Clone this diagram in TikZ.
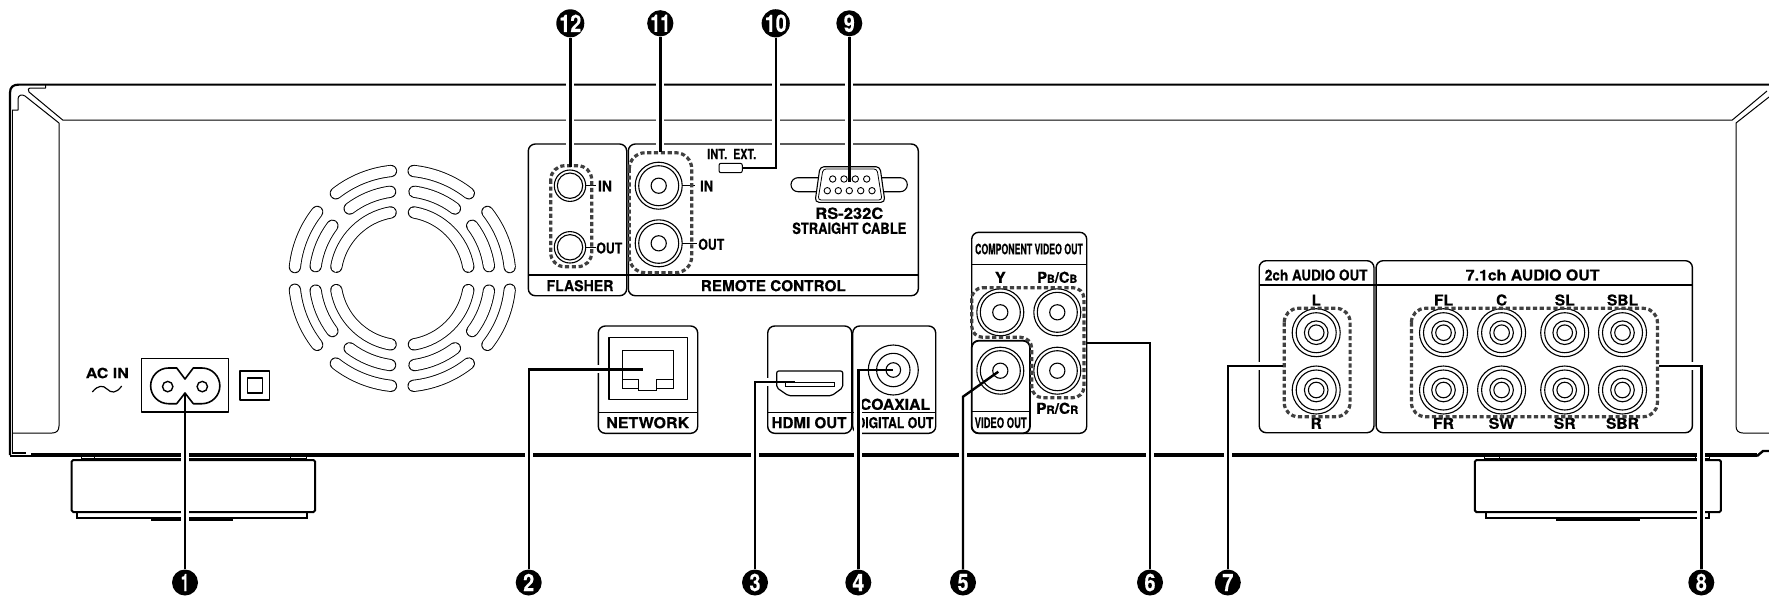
\documentclass[tikz,border=0pt]{standalone}
\usepackage{graphicx}
\usepackage{fontspec}
\setmainfont{TeX Gyre Heros}[BoldFeatures={FakeBold=0.4}]
\newcommand{\wl}[3]{\resizebox{#2pt}{\height}{\fontsize{#1pt}{#1pt}\selectfont\bfseries #3}}
\newcommand{\numt}[2]{\resizebox{#1pt}{\height}{\fontsize{24pt}{24pt}\selectfont\bfseries\color{white}#2}}
\newcommand{\sm}[1]{{\fontsize{11pt}{11pt}\selectfont #1}}
\tikzset{
  x=1pt,y=-1pt,
  lab/.style={inner sep=0pt,outer sep=0pt,anchor=center},
  num/.style={circle,fill=black,inner sep=0pt,minimum size=26pt},
  panel/.style={draw=black,fill=white,line width=1.4pt,rounded corners=7pt},
  thinl/.style={line width=1pt,line join=round},
  medl/.style={line width=1.3pt,line join=round},
  dashbox/.style={draw=black!75,line width=3.2pt,dash pattern=on 4.2pt off 2.6pt,rounded corners=14pt},
  leader/.style={draw=black,line width=2.4pt,line join=miter},
  halo/.style={draw=white,line width=8pt},
  ring/.style={draw=black,line width=1.1pt},
}
\newcommand{\rca}[2]{%
  \draw[ring] (#1,#2) circle[radius=24pt];
  \draw[ring] (#1,#2) circle[radius=20pt];
  \draw[ring] (#1,#2) circle[radius=11.8pt];
  \draw[ring] (#1,#2) circle[radius=7.8pt];}
\newcommand{\vid}[2]{%
  \draw[ring] (#1,#2) circle[radius=23.5pt];
  \draw[ring] (#1,#2) circle[radius=20pt];
  \draw[ring] (#1,#2) circle[radius=7.6pt];}
\begin{document}
\begin{tikzpicture}
\useasboundingbox (0,0) rectangle (1769,595);
\clip (0,0) rectangle (1769,595);
% ---------- body
\draw[line width=2.2pt,line join=round] (10,455) -- (10,93) .. controls (10,87) and (13,84.6) .. (19,84.6) -- (1769,84.6);
\draw[thinl] (12,110) -- (12,452);
\draw[thinl] (45.7,84.6) -- (45.7,88) -- (31,88) .. controls (28,88) and (27.5,90) .. (29,92) -- (62.7,120) -- (1732.3,120) -- (1767,91);
\draw[thinl] (12,110) -- (18,110) -- (18,99) .. controls (18,95) and (22,94) .. (25,96) -- (59,123) -- (59,426) .. controls (59,431) and (56,433) .. (52,433) -- (12,433);
\draw[thinl] (1769,433) -- (1743,433) .. controls (1739,433) and (1736,431) .. (1736,426) -- (1736,123) -- (1769,97);
\draw[line width=4.6pt] (31,455) -- (1757,455);
\draw[line width=1.6pt] (12,453) -- (26,453);
\draw[line width=2.4pt] (10,456) -- (33,456);
\draw[line width=2.4pt] (1757,456) -- (1763,451) -- (1769,451);
% ---------- feet
\draw[line width=1pt] (81.7,457) -- (81.7,460) (306,457) -- (306,460) (94.3,457) -- (94.3,460) (290.7,457) -- (290.7,460);
\draw[line width=1pt] (1484.5,457) -- (1484.5,460) (1709,457) -- (1709,460) (1499.5,457) -- (1499.5,460) (1695.6,457) -- (1695.6,460);
\draw[line width=1pt] (81.7,458.3) -- (306,458.3) (1484.5,458.3) -- (1709,458.3);
\draw[line width=2pt,rounded corners=1.5pt] (71.7,460) rectangle (315,512);
\draw[line width=1.7pt] (76.7,512) -- (76.7,518) -- (307.3,518) -- (307.3,512);
\draw[line width=2.5pt] (150.7,519.5) -- (233.3,519.5);
\draw[line width=2pt,rounded corners=1.5pt] (1474.9,460) rectangle (1720.9,512);
\draw[line width=1.7pt] (1486.3,512) -- (1486.3,518) -- (1709,518) -- (1709,512);
\draw[line width=2.5pt] (1555.8,519.5) -- (1639.6,519.5);
% ---------- fan
\foreach \r/\a/\b in {67/10/80,87.5/8/37,87.5/53/82,108/6/38,108/52/84}
  \foreach \s in {0,90,180,270}{
    \pgfmathsetmacro{\aa}{\a+\s}
    \pgfmathsetmacro{\bb}{\b+\s}
    \draw[line width=12.2pt,line cap=round] ([shift={(402.3,278.4)}]\aa:\r pt) arc[start angle=\aa,end angle=\bb,radius=\r pt];
    \draw[white,line width=10.4pt,line cap=round] ([shift={(402.3,278.4)}]\aa:\r pt) arc[start angle=\aa,end angle=\bb,radius=\r pt];
  }
% ---------- AC IN
\node[lab] (acin) at (107.3,373) {\wl{14}{43}{AC IN}};
\draw[line width=1.2pt] (92.3,392) .. controls (98,385) and (103,385) .. (107,389) .. controls (111,393) and (116,394) .. (121.7,386);
\draw[medl] (141.7,358.6) rectangle (228.3,412);
\draw[line width=1.6pt,line join=round] (176.7,368) -- (185,379) -- (193.3,368) -- (202,368) arc[start angle=90,end angle=-90,radius=17.85pt] -- (193.3,403.7) -- (185,393) -- (176.7,403.7) -- (168.5,403.7) arc[start angle=270,end angle=90,radius=17.85pt] -- cycle;
\draw[line width=1.4pt] (167.7,386.6) circle[radius=5.2pt] (202.3,386.6) circle[radius=5.2pt];
\draw[medl] (240,371) rectangle (269.3,400);
\draw[medl] (247.3,378) rectangle (262.3,393);
% ---------- panels
\draw[panel] (528.3,144) rectangle (626.7,295.7);
\draw[panel] (628.3,144) rectangle (918.3,295.7);
\draw[medl] (528.3,275) -- (918.3,275);
\draw[panel] (598.3,326) rectangle (697.7,433.3);
\draw[medl] (598.3,412.3) -- (697.7,412.3);
\draw[panel] (767.7,326) rectangle (851.7,433.3);
\draw[panel] (852.7,326) rectangle (935.7,433.3);
\draw[medl] (767.7,412.3) -- (935.7,412.3);
\draw[panel] (971.7,232.3) rectangle (1086.7,433.3);
\draw[medl] (971.7,264.3) -- (1086.7,264.3);
\draw[panel,line width=1.8pt] (971.7,340.7) rectangle (1030,433.3);
\draw[medl] (971.7,411.7) -- (1030,411.7);
\draw[panel] (1259.2,260.7) rectangle (1374,432.7);
\draw[panel] (1376.1,260.7) rectangle (1692.4,432.7);
\draw[medl] (1259.2,285) -- (1692.4,285);
% ---------- texts
\node[lab] (tfl) at (580,285.7) {\wl{15}{67}{FLASHER}};
\node[lab] (trc) at (773.3,285.7) {\wl{15}{145}{REMOTE CONTROL}};
\node[lab] (tin1) at (605,186) {\wl{15}{14}{IN}};
\node[lab] (tou1) at (609.3,248) {\wl{15}{26}{OUT}};
\node[lab] (tin2) at (706.7,186) {\wl{15}{13}{IN}};
\node[lab] (tou2) at (711.3,244.3) {\wl{15}{26}{OUT}};
\node[lab] (tint) at (717.3,154) {\wl{14}{20}{INT.}};
\node[lab] (text) at (744.7,154) {\wl{14}{23}{EXT.}};
\node[lab] (trs) at (849.3,213.3) {\wl{15.5}{68}{RS-232C}};
\node[lab] (tsc) at (849.3,228.3) {\wl{15.5}{114}{STRAIGHT CABLE}};
\node[lab] (tnw) at (647.7,422.7) {\wl{15}{83}{NETWORK}};
\node[lab] (thd) at (809,422.7) {\wl{15}{75}{HDMI OUT}};
\node[lab] (tco) at (895,404.3) {\wl{15}{70}{COAXIAL}};
\node[lab] (tdg) at (895,422.7) {\wl{15}{77}{DIGITAL OUT}};
\node[lab] (tcv) at (1029,249) {\wl{14.5}{107.7}{COMPONENT VIDEO OUT}};
\node[lab] (tvo) at (1000.7,422.7) {\wl{14.5}{52}{VIDEO OUT}};
\node[lab] (ty) at (1000.3,277.3) {\wl{15}{11}{Y}};
\node[lab] (tpb) at (1057.3,277.3) {\wl{15}{40}{P\sm{B}/C\sm{B}}};
\node[lab] (tpr) at (1057.3,408.3) {\wl{15}{42}{P\sm{R}/C\sm{R}}};
\node[lab] (t2c) at (1316.2,275) {\wl{15}{102.7}{2ch AUDIO OUT}};
\node[lab] (t7c) at (1532.6,275) {\wl{15}{133.7}{7.1ch AUDIO OUT}};
\node[lab] (tl) at (1316.2,300) {\wl{15}{9}{L}};
\node[lab] (tr) at (1316.2,423.3) {\wl{15}{11}{R}};
\node[lab] (tfl2) at (1443.5,300) {\wl{15}{19}{FL}};
\node[lab] (tc) at (1501.6,300) {\wl{15}{11}{C}};
\node[lab] (tsl) at (1564.7,300) {\wl{15}{20}{SL}};
\node[lab] (tsbl) at (1622.5,300) {\wl{15}{31}{SBL}};
\node[lab] (tfr) at (1443.5,423.3) {\wl{15}{21}{FR}};
\node[lab] (tsw) at (1501.6,423.3) {\wl{15}{26}{SW}};
\node[lab] (tsr) at (1564.7,423.3) {\wl{15}{22}{SR}};
\node[lab] (tsbr) at (1622.5,423.3) {\wl{15}{33}{SBR}};
% ---------- number nodes and leader targets
\node[num] (n1) at (185,582.5) {\numt{8}{1}};
\node[num] (n2) at (528.7,582.5) {\numt{11}{2}};
\node[num] (n3) at (755,582.5) {\numt{11}{3}};
\node[num] (n4) at (858.3,582.5) {\numt{12}{4}};
\node[num] (n5) at (963,582.5) {\numt{11}{5}};
\node[num] (n6) at (1150,582.5) {\numt{11}{6}};
\node[num] (n7) at (1227.8,582.5) {\numt{11}{7}};
\node[num] (n8) at (1701.3,582.5) {\numt{11}{8}};
\node[num] (n9) at (849.3,23.3) {\numt{11}{9}};
\node[num] (n10) at (775.7,23.3) {\numt{22}{10}};
\node[num] (n11) at (660.3,23.3) {\numt{20}{11}};
\node[num] (n12) at (570.3,23.3) {\numt{22}{12}};
\coordinate (t1) at (185,393);
\coordinate (t2) at (642.7,369.3);
\coordinate (t3) at (795,381.7);
\coordinate (t4) at (893.3,370);
\coordinate (b5) at (963,396.7);
\coordinate (t5) at (998.3,371.7);
\coordinate (t6) at (1086.7,342.7);
\coordinate (t7) at (1283,365.7);
\coordinate (t8) at (1658.5,365.7);
\coordinate (t9) at (849.3,181.7);
\coordinate (t10) at (742.3,167.7);
\coordinate (t11) at (660.3,152);
\coordinate (t12) at (570.3,166.7);
\coordinate (h1) at (185,415);
\coordinate (h2) at (604,369.3);
\coordinate (h3) at (772,381.7);
\coordinate (h4) at (858.3,398);
\coordinate (h6) at (1150,360);
\coordinate (h7) at (1270,365.7);
\coordinate (h8) at (1680,365.7);
\coordinate (h9) at (849.3,150);
\coordinate (h10) at (775.7,150);
\coordinate (h11) at (660.3,150);
\coordinate (h12) at (570.3,150);
% ---------- halos
\draw[halo] (n1.north) -- (h1);
\draw[halo] (n2.north) |- (h2);
\draw[halo] (n3.north) |- (h3);
\draw[halo] (n4.north) -- (h4);
\draw[halo] (n5.north) -- (b5);
\draw[halo] (n6.north) -- (h6);
\draw[halo] (n7.north) |- (h7);
\draw[halo] (n8.north) |- (h8);
\draw[halo] (n9.south) -- (h9);
\draw[halo] (n10.south) -- (h10);
\draw[halo] (n11.south) -- (h11);
\draw[halo] (n12.south) -- (h12);
% ---------- devices: flasher / remote
\draw[ring] (570,185.7) circle[radius=15.7pt] (570,185.7) circle[radius=12.7pt];
\draw[ring] (570,247.3) circle[radius=15.7pt] (570,247.3) circle[radius=12.7pt];
\draw[medl] (585.7,185.7) -- (596,185.7) (585.7,247.3) -- (596,247.3);
\draw[dashbox] (550.7,165.7) rectangle (591.7,266.7);
\vid{658.7}{185.7}
\vid{658.7}{243.3}
\draw[medl] (682,185.7) -- (695,185.7) (682,243.3) -- (697,243.3);
\draw[dashbox,rounded corners=16pt] (629.3,152.7) rectangle (691.7,272.7);
\draw[line width=1pt,rounded corners=2pt] (719,163.3) rectangle (742.3,172.7);
% RS-232C
\draw[line width=1.1pt,rounded corners=7pt] (791,177.7) rectangle (907.3,191.7);
\draw[line width=1.1pt,fill=white,rounded corners=4pt] (820,166.7) -- (880,166.7) -- (885,202.3) -- (815,202.3) -- cycle;
\draw[line width=.8pt,rounded corners=3pt] (823,169) -- (877,169) -- (882,200) -- (818,200) -- cycle;
\foreach \x in {832.7,844,855.3,866.7}
  \draw[line width=.9pt] (\x,179) circle[radius=3.2pt];
\foreach \x in {827.3,838.3,849.3,860.7,872}
  \draw[line width=.9pt] (\x,190.7) circle[radius=3.2pt];
% Network
\draw[medl] (609,337.7) rectangle (687.3,399.3);
\draw[line width=1.2pt,line join=miter] (622.7,379.3) -- (622.7,350.7) -- (673.3,350.7) -- (673.3,379.3);
\draw[line width=1.2pt] (622.7,379.3) -- (622.7,388.3) -- (638.3,388.3) (656.7,388.3) -- (673.3,388.3) -- (673.3,379.3);
\draw[line width=1.2pt] (622.7,379.3) -- (638.3,379.3) -- (638.3,390.7) -- (656.7,390.7) -- (656.7,379.3) -- (673.3,379.3);
% HDMI
\draw[line width=1.2pt,line join=round,rounded corners=2pt] (776.7,371) -- (842.7,371) -- (842.7,387.7) -- (831.7,395.7) -- (788.3,395.7) -- (776.7,387.7) -- cycle;
\draw[line width=1pt] (785.3,382.3) rectangle (834,386.7);
% Coax
\draw[ring] (893.3,370) circle[radius=25pt] (893.3,370) circle[radius=16.7pt] (893.3,370) circle[radius=7.3pt];
% Component video
\vid{1000.3}{312.3}
\vid{1057.3}{312.3}
\vid{1057.3}{370.7}
\vid{1000.3}{370.7}
\draw[dashbox,rounded corners=11pt] (971.7,287.7) -- (1084,287.7) -- (1084,397.7) -- (1031.7,397.7) -- (1031.7,337.3) -- (971.7,337.3) -- cycle;
% Audio
\foreach \y in {332.7,390}{
  \rca{1316.2}{\y}
  \rca{1443.5}{\y}
  \rca{1501.6}{\y}
  \rca{1564.7}{\y}
  \rca{1622.5}{\y}
}
\draw[dashbox] (1284.2,308.3) rectangle (1350.1,416.7);
\draw[dashbox] (1411.4,308.3) rectangle (1657.4,416.7);
% ---------- leaders
\draw[leader] (n1.north) -- (t1);
\draw[leader] (n2.north) |- (t2);
\draw[leader] (n3.north) |- (t3);
\draw[leader] (n4.north) |- (t4);
\draw[leader] (n5.north) -- (b5) -- (t5);
\draw[leader] (n6.north) |- (t6);
\draw[leader] (n7.north) |- (t7);
\draw[leader] (n8.north) |- (t8);
\draw[leader] (n9.south) -- (t9);
\draw[leader] (n10.south) |- (t10);
\draw[leader] (n11.south) -- (t11);
\draw[leader] (n12.south) -- (t12);
\end{tikzpicture}
\end{document}
